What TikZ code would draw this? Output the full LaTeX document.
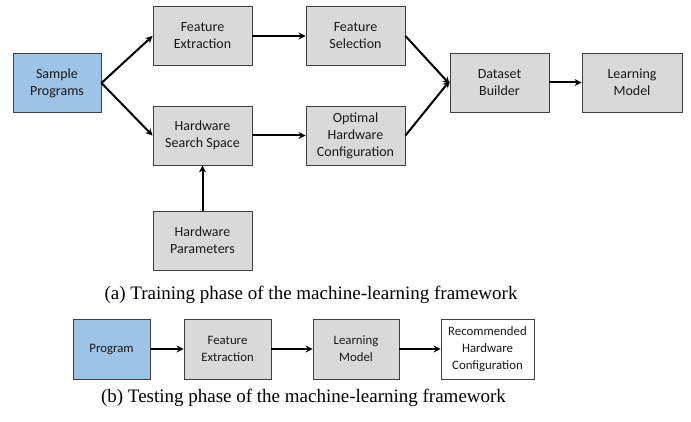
\documentclass[tikz,border=0pt]{standalone}
\usepackage{fontspec}
\setmainfont{Liberation Serif}
\newfontfamily\boxfont{Carlito}
\usetikzlibrary{arrows.meta}
\definecolor{boxgray}{HTML}{D9D9D9}
\definecolor{boxblue}{HTML}{9DC3E6}
\definecolor{boxline}{HTML}{404040}
\tikzset{
  box/.style={draw=boxline, line width=0.9pt, fill=boxgray, align=center,
    font=\boxfont\fontsize{14}{17}\selectfont, inner sep=0pt, text=black!90},
  smallbox/.style={box, font=\boxfont\fontsize{12.8}{17}\selectfont},
  srcbox/.style={box, fill=boxblue},
  outbox/.style={smallbox, fill=white},
  flow/.style={line width=2pt, -{Stealth[length=7pt,width=7pt]}},
  captext/.style={font=\fontsize{19}{22}\selectfont, inner sep=0pt}
}
\begin{document}
\begin{tikzpicture}[x=1pt,y=-1pt]
\useasboundingbox (0,0) rectangle (691,422);
% top
\node[srcbox, minimum width=88pt, minimum height=59pt] (sp) at (57,83) {Sample\\Programs};
\node[box, minimum width=99pt, minimum height=59pt] (fe) at (202.5,36) {Feature\\Extraction};
\node[box, minimum width=99pt, minimum height=59pt] (hs) at (202.5,135.5) {Hardware\\Search Space};
\node[box, minimum width=99pt, minimum height=59pt] (hp) at (202.5,240.5) {Hardware\\Parameters};
\node[box, minimum width=99pt, minimum height=59pt] (fs) at (355.5,36) {Feature\\Selection};
\node[box, minimum width=99pt, minimum height=59pt] (oh) at (355.5,135.5) {Optimal\\Hardware\\Configuration};
\node[box, minimum width=99pt, minimum height=59pt] (db) at (499.5,82.5) {Dataset\\Builder};
\node[box, minimum width=100pt, minimum height=59pt] (lm) at (632,82.5) {Learning\\Model};
\draw[flow] (sp.east) -- (fe.west);
\draw[flow] (sp.east) -- (hs.west);
\draw[flow] (fe) -- (fs);
\draw[flow] (hs) -- (oh);
\draw[flow] (hp) -- (hs);
\draw[flow] (fs.east) -- ([yshift=-1.5pt]db.west);
\draw[flow] (oh.east) -- ([yshift=1.5pt]db.west);
\draw[flow] (db) -- (lm);
\node[captext] (capa) at (311,295) {(a) Training phase of the machine-learning framework};
% bottom
\node[srcbox, smallbox, fill=boxblue, minimum width=77pt, minimum height=60pt] (pg) at (111.5,349) {Program};
\node[smallbox, minimum width=87pt, minimum height=60pt] (fe2) at (227.5,349) {Feature\\Extraction};
\node[smallbox, minimum width=86pt, minimum height=60pt] (lm2) at (356,349) {Learning\\Model};
\node[outbox, minimum width=93pt, minimum height=60pt] (rc) at (487.5,349) {Recommended\\Hardware\\Configuration};
\draw[flow] (pg) -- (fe2);
\draw[flow] (fe2) -- (lm2);
\draw[flow] (lm2) -- (rc);
\node[captext] (capb) at (303.5,398) {(b) Testing phase of the machine-learning framework};
\end{tikzpicture}
\end{document}
